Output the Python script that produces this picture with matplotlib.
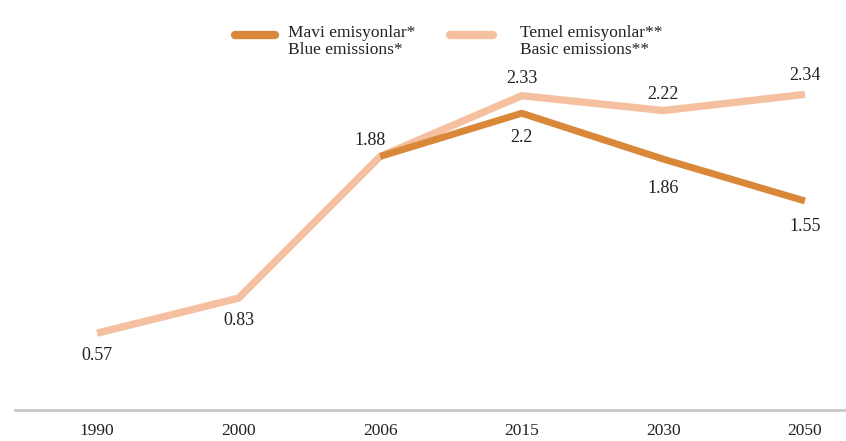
import numpy as np
import matplotlib.pyplot as plt
from matplotlib.lines import Line2D

# Veriler
years = ['1990', '2000', '2006', '2015', '2030', '2050']
mavi = [np.nan, np.nan, 1.88, 2.2, 1.86, 1.55]
temel = [0.57, 0.83, 1.88, 2.33, 2.22, 2.34]

mavi_color = '#d9883a'
temel_color = '#f5c0a0'

plt.rcParams['font.family'] = ['Liberation Serif', 'DejaVu Serif']

fig = plt.figure(figsize=(8.46, 4.41), dpi=100)
ax = fig.add_axes([15 / 846, 0.07, 1 - 15 / 846, 0.918])

x = np.arange(len(years))
ax.plot(x, mavi, color=mavi_color, linewidth=5, solid_capstyle='butt')
ax.plot(x, temel, color=temel_color, linewidth=5.3, solid_capstyle='butt', zorder=1)

# Değer etiketleri (dx, dy piksel cinsinden)
temel_off = [(0, -22), (0, -22), (-10, 16), (0, 17), (0, 16), (0, 19)]
for i, v in enumerate(temel):
    dx, dy = temel_off[i]
    ax.annotate(f'{v:g}', (x[i], v), xytext=(dx, dy), textcoords='offset pixels',
                ha='center', va='center', fontsize=13, color='#222222')
mavi_off = [None, None, None, (0, -24), (0, -29), (0, -26)]
for i, v in enumerate(mavi):
    if mavi_off[i] is None:
        continue
    dx, dy = mavi_off[i]
    ax.annotate(f'{v:g}', (x[i], v), xytext=(dx, dy), textcoords='offset pixels',
                ha='center', va='center', fontsize=13, color='#222222')

ax.set_xlim(-0.579, 5.29)
ax.set_ylim(0, 3.0)
ax.set_xticks(x)
ax.set_xticklabels(years, fontsize=12.5)
ax.set_yticks([])
for s in ['top', 'right', 'left']:
    ax.spines[s].set_visible(False)
ax.spines['bottom'].set_color('#c8c8c8')
ax.spines['bottom'].set_linewidth(2)
ax.tick_params(axis='x', length=0, pad=9, colors='#222222')

# Lejant (el ile, piksel konumlarıyla)
W, H = 846, 441
def legend_item(x0, x1, xt, color, text):
    fig.add_artist(Line2D([x0 / W, x1 / W], [1 - 35 / H] * 2, color=color,
                          linewidth=6, solid_capstyle='round', transform=fig.transFigure))
    fig.text(xt / W, 1 - 25 / H, text, ha='left', va='top', fontsize=12.5,
             color='#222222', linespacing=1.05)

legend_item(235, 275, 288, mavi_color, 'Mavi emisyonlar*\nBlue emissions*')
legend_item(450, 493, 520, temel_color, 'Temel emisyonlar**\nBasic emissions**')

plt.savefig('out.png', dpi=100)
